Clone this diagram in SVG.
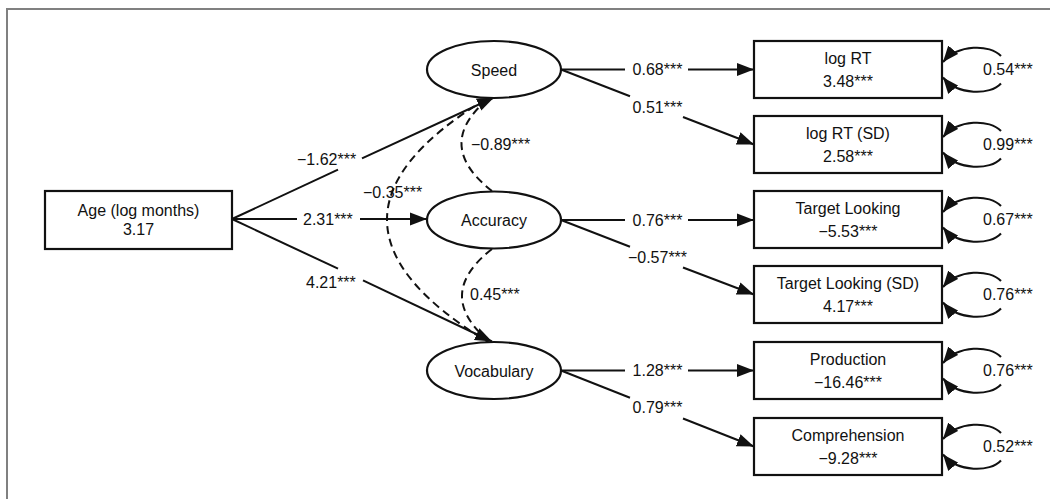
<svg xmlns="http://www.w3.org/2000/svg" width="1050" height="499" viewBox="0 0 1050 499">
<style>
  text { font-family: "Liberation Sans", Arial, Helvetica, sans-serif; font-size: 16px; fill: #111; }
  .c { text-anchor: middle; }
  .node { fill: #fff; stroke: #111; stroke-width: 2.2; }
  .edge { fill: none; stroke: #111; stroke-width: 2; }
  .dash { fill: none; stroke: #111; stroke-width: 2; stroke-dasharray: 8 5; }
  .loop { fill: none; stroke: #111; stroke-width: 2; }
</style>
<defs>
  <marker id="arr" markerUnits="userSpaceOnUse" markerWidth="18" markerHeight="14" refX="17" refY="7" orient="auto">
    <path d="M0,0.5 L17,7 L0,13.5 z" fill="#111"/>
  </marker>
  <marker id="larr" markerUnits="userSpaceOnUse" markerWidth="18" markerHeight="14" refX="16" refY="7" orient="auto-start-reverse">
    <path d="M0,0.5 L16,7 L0,13.5 z" fill="#111"/>
  </marker>
</defs>
<rect width="1050" height="499" fill="#fff"/>
<path d="M7,499 L7,9 L1050,9" fill="none" stroke="#808080" stroke-width="2"/>

<g id="connectors">
  <path class="edge" d="M232,219 L338,169.6"/>
  <path class="edge" d="M362,158.4 L494,97.5" marker-end="url(#arr)"/>
  <path class="edge" d="M232,219 L297,219"/>
  <path class="edge" d="M360,219 L427,219" marker-end="url(#arr)"/>
  <path class="edge" d="M232,219 L338,268.7"/>
  <path class="edge" d="M363,280.4 L492,341.5" marker-end="url(#arr)"/>
  <text x="297" y="165">−1.62***</text>
  <text x="303" y="225">2.31***</text>
  <text x="306" y="288">4.21***</text>

  <path class="dash" d="M488,99 Q433,145 492,191"/>
  <path class="dash" d="M492,249 Q433,295 490,342"/>
  <path class="dash" d="M486,99 Q287,220 488,342"/>
  <text x="471" y="150">−0.89***</text>
  <text x="470" y="300">0.45***</text>
  <text x="363" y="198">−0.35***</text>

  <path class="edge" d="M561,69.5 L625,69.5"/>
  <path class="edge" d="M688,69.5 L754,69.5" marker-end="url(#arr)"/>
  <path class="edge" d="M561,69.5 L630,96.3"/>
  <path class="edge" d="M683,117 L754,144.5" marker-end="url(#arr)"/>
  <text class="c" x="657.5" y="75">0.68***</text>
  <text class="c" x="657.5" y="113">0.51***</text>

  <path class="edge" d="M561,220 L625,220"/>
  <path class="edge" d="M688,220 L754,220" marker-end="url(#arr)"/>
  <path class="edge" d="M561,220 L630,246.8"/>
  <path class="edge" d="M683,267.5 L754,294.5" marker-end="url(#arr)"/>
  <text class="c" x="657.5" y="225.5">0.76***</text>
  <text class="c" x="657.5" y="263">−0.57***</text>

  <path class="edge" d="M561,370.5 L625,370.5"/>
  <path class="edge" d="M688,370.5 L754,370.5" marker-end="url(#arr)"/>
  <path class="edge" d="M561,370.5 L630,397.7"/>
  <path class="edge" d="M683,418.5 L754,446.5" marker-end="url(#arr)"/>
  <text class="c" x="657.5" y="376">1.28***</text>
  <text class="c" x="657.5" y="413">0.79***</text>

  <g id="loops">
    <path class="loop" d="M943,62 C958,44 990,44 1001,56" marker-start="url(#larr)"/>
    <path class="loop" d="M943,77.5 C958,95.5 990,95.5 1001,83.5" marker-start="url(#larr)"/>
    <text x="983" y="75">0.54***</text>

    <path class="loop" d="M943,137 C958,119 990,119 1001,131" marker-start="url(#larr)"/>
    <path class="loop" d="M943,152.5 C958,170.5 990,170.5 1001,158.5" marker-start="url(#larr)"/>
    <text x="983" y="150">0.99***</text>

    <path class="loop" d="M943,212 C958,194 990,194 1001,206" marker-start="url(#larr)"/>
    <path class="loop" d="M943,227.5 C958,245.5 990,245.5 1001,233.5" marker-start="url(#larr)"/>
    <text x="983" y="225">0.67***</text>

    <path class="loop" d="M943,287 C958,269 990,269 1001,281" marker-start="url(#larr)"/>
    <path class="loop" d="M943,302.5 C958,320.5 990,320.5 1001,308.5" marker-start="url(#larr)"/>
    <text x="983" y="300">0.76***</text>

    <path class="loop" d="M943,363 C958,345 990,345 1001,357" marker-start="url(#larr)"/>
    <path class="loop" d="M943,378.5 C958,396.5 990,396.5 1001,384.5" marker-start="url(#larr)"/>
    <text x="983" y="376">0.76***</text>

    <path class="loop" d="M943,439 C958,421 990,421 1001,433" marker-start="url(#larr)"/>
    <path class="loop" d="M943,454.5 C958,472.5 990,472.5 1001,460.5" marker-start="url(#larr)"/>
    <text x="983" y="452">0.52***</text>
  </g>
</g>

<g id="age">
  <rect class="node" x="45" y="191" width="187" height="58"/>
  <text class="c" x="138.5" y="216">Age (log months)</text>
  <text class="c" x="138.5" y="235">3.17</text>
</g>

<g id="speed">
  <ellipse class="node" cx="494" cy="69.5" rx="67" ry="28.5"/>
  <text class="c" x="494" y="75.5">Speed</text>
</g>
<g id="accuracy">
  <ellipse class="node" cx="494" cy="220" rx="67" ry="28.5"/>
  <text class="c" x="494" y="226">Accuracy</text>
</g>
<g id="vocabulary">
  <ellipse class="node" cx="494" cy="370.5" rx="67" ry="28.5"/>
  <text class="c" x="494" y="376.5">Vocabulary</text>
</g>

<g id="logrt">
  <rect class="node" x="754" y="41" width="188" height="57"/>
  <text class="c" x="848" y="64">log RT</text>
  <text class="c" x="848" y="86.5">3.48***</text>
</g>
<g id="logrtsd">
  <rect class="node" x="754" y="116" width="188" height="57"/>
  <text class="c" x="848" y="139">log RT (SD)</text>
  <text class="c" x="848" y="161.5">2.58***</text>
</g>
<g id="target">
  <rect class="node" x="754" y="191" width="188" height="57"/>
  <text class="c" x="848" y="214">Target Looking</text>
  <text class="c" x="848" y="236.5">−5.53***</text>
</g>
<g id="targetsd">
  <rect class="node" x="754" y="266" width="188" height="57"/>
  <text class="c" x="848" y="289">Target Looking (SD)</text>
  <text class="c" x="848" y="311.5">4.17***</text>
</g>
<g id="production">
  <rect class="node" x="754" y="342" width="188" height="57"/>
  <text class="c" x="848" y="365">Production</text>
  <text class="c" x="848" y="387.5">−16.46***</text>
</g>
<g id="comprehension">
  <rect class="node" x="754" y="418" width="188" height="57"/>
  <text class="c" x="848" y="441">Comprehension</text>
  <text class="c" x="848" y="463.5">−9.28***</text>
</g>
</svg>
